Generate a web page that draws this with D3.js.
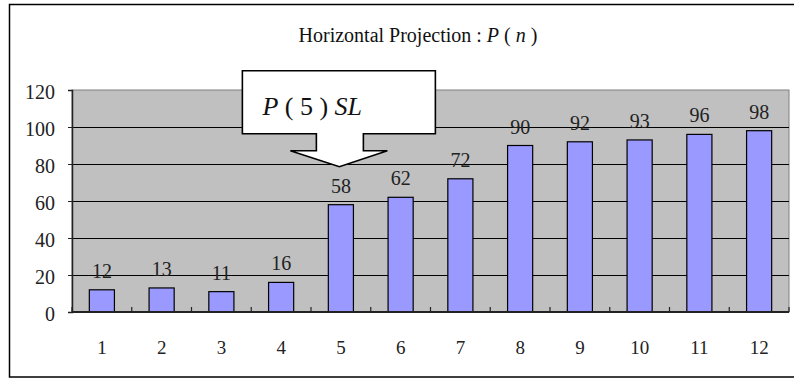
<!DOCTYPE html>
<html><head><meta charset="utf-8">
<script src="https://cdn.jsdelivr.net/npm/d3@7"></script>
<style>
body{margin:0;background:#fff}
svg{display:block;font-family:"Liberation Serif","Times New Roman",serif}
</style>
</head><body>
<svg id="chart" width="794" height="378"></svg>
<script>
// Horizontal projection values per column n
const categories = ["1","2","3","4","5","6","7","8","9","10","11","12"];
const values = [12, 13, 11, 16, 58, 62, 72, 90, 92, 93, 96, 98];
const yTicks = [0, 20, 40, 60, 80, 100, 120];
const calloutCategory = "5";

const svg = d3.select("#chart");
const W = 794, H = 378;
const plot = {left: 72, right: 789, top: 90, bottom: 312};

// outer chart frame (right side runs past the page edge)
svg.append("rect")
  .attr("x", 9.5).attr("y", 4.5)
  .attr("width", W).attr("height", 372.5)
  .attr("fill", "#fff").attr("stroke", "#000").attr("stroke-width", 1.5);

// title with italic symbols
const title = svg.append("text")
  .attr("x", 418).attr("y", 42)
  .attr("text-anchor", "middle")
  .attr("font-size", 20).attr("fill", "#111");
title.append("tspan").text("Horizontal Projection : ");
title.append("tspan").attr("font-style", "italic").text("P");
title.append("tspan").text(" ( ");
title.append("tspan").attr("font-style", "italic").text("n");
title.append("tspan").text(" )");

const x = d3.scaleBand()
  .domain(categories)
  .range([plot.left, plot.right])
  .paddingInner(0.58)
  .paddingOuter(0.29);
const step = x.step();

const y = d3.scaleLinear().domain([0, 120]).range([plot.bottom, plot.top]);

// plot background
svg.append("rect")
  .attr("x", plot.left).attr("y", plot.top)
  .attr("width", plot.right - plot.left).attr("height", plot.bottom - plot.top)
  .attr("fill", "#c0c0c0").attr("stroke", "#808080").attr("stroke-width", 1);

// horizontal gridlines
svg.append("g").selectAll("line")
  .data(yTicks.filter(t => t > 0 && t < 120))
  .join("line")
  .attr("x1", plot.left).attr("x2", plot.right)
  .attr("y1", d => Math.round(y(d)) + 0.5).attr("y2", d => Math.round(y(d)) + 0.5)
  .attr("stroke", "#000").attr("stroke-width", 1);

// bars
svg.append("g").selectAll("rect")
  .data(values)
  .join("rect")
  .attr("x", (d, i) => x(categories[i]))
  .attr("y", d => y(d))
  .attr("width", x.bandwidth())
  .attr("height", d => y(0) - y(d))
  .attr("fill", "#9999ff")
  .attr("stroke", "#000").attr("stroke-width", 1.2);

// y axis
const yAxis = svg.append("g")
  .attr("transform", `translate(${plot.left},0)`)
  .call(d3.axisLeft(y).tickValues(yTicks).tickSize(4).tickPadding(13));
yAxis.select(".domain").attr("stroke", "#222").attr("stroke-width", 1.5);
yAxis.selectAll(".tick line").attr("stroke", "#222");
yAxis.selectAll("text")
  .attr("font-size", 20).attr("fill", "#222")
  .attr("font-family", "Liberation Serif, serif")
  .attr("dy", "0.4em");

// x axis: tick marks between categories, pointing into the plot
const bounds = d3.range(categories.length + 1).map(i => plot.left + i * step);
svg.append("g").selectAll("line")
  .data(bounds)
  .join("line")
  .attr("x1", d => d).attr("x2", d => d)
  .attr("y1", y(0)).attr("y2", y(0) - 5)
  .attr("stroke", "#222").attr("stroke-width", 1.2);
svg.append("line")
  .attr("x1", plot.left).attr("x2", plot.right)
  .attr("y1", y(0)).attr("y2", y(0))
  .attr("stroke", "#222").attr("stroke-width", 2);

svg.append("g").selectAll("text")
  .data(categories)
  .join("text")
  .attr("x", d => x(d) + x.bandwidth() / 2)
  .attr("y", 354)
  .attr("text-anchor", "middle")
  .attr("font-size", 19).attr("fill", "#222")
  .text(d => d);

// value labels above bars
svg.append("g").selectAll("text")
  .data(values)
  .join("text")
  .attr("x", (d, i) => x(categories[i]) + x.bandwidth() / 2)
  .attr("y", d => y(d) - 12)
  .attr("text-anchor", "middle")
  .attr("font-size", 20).attr("fill", "#222")
  .text(d => d);

// callout arrow pointing at the column where the projection jumps
const ci = categories.indexOf(calloutCategory);
const cx = x(calloutCategory) + x.bandwidth() / 2 - 1.5;
const ty = y(values[ci]) - 38;
const callout = d3.path();
callout.moveTo(cx - 97, ty - 96);
callout.lineTo(cx + 96, ty - 96);
callout.lineTo(cx + 96, ty - 33);
callout.lineTo(cx + 24, ty - 33);
callout.lineTo(cx + 24, ty - 16);
callout.lineTo(cx + 48, ty - 16);
callout.lineTo(cx, ty);
callout.lineTo(cx - 49, ty - 16);
callout.lineTo(cx - 23, ty - 16);
callout.lineTo(cx - 23, ty - 33);
callout.lineTo(cx - 97, ty - 33);
callout.closePath();
svg.append("path")
  .attr("d", callout.toString())
  .attr("fill", "#fff").attr("stroke", "#000").attr("stroke-width", 1.6)
  .attr("stroke-linejoin", "miter");

const ct = svg.append("text")
  .attr("x", cx - 77).attr("y", ty - 52)
  .attr("font-size", 26).attr("fill", "#111");
ct.append("tspan").attr("font-style", "italic").text("P");
ct.append("tspan").text(" ( " + calloutCategory + " ) ");
ct.append("tspan").attr("font-style", "italic").text("SL");
</script>
</body></html>
